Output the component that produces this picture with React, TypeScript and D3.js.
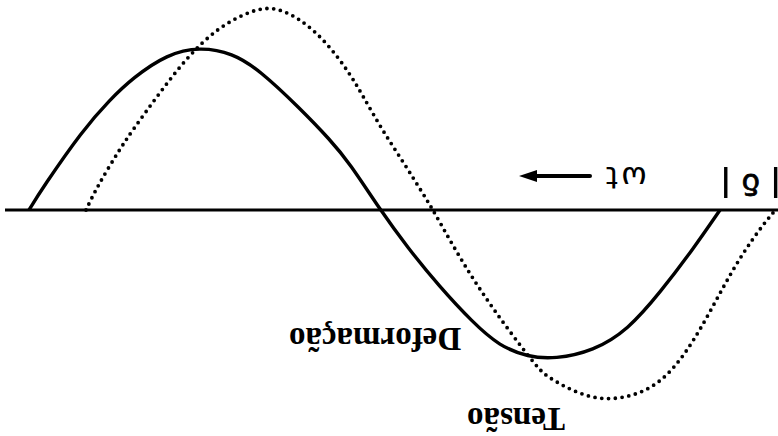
import React from "react";
import * as d3 from "d3";

// Phase angle ωt in degrees and the two response curves read as amplitude units
const strainDeg = [0, 7, 28, 42, 54, 72, 89, 106, 120, 141, 157, 167, 183, 197, 214, 231, 245, 260, 274, 294, 312, 329, 346, 360];
const strainVal = [0, 0.22, 0.8, 1.1, 1.32, 1.56, 1.63, 1.57, 1.4, 1.02, 0.7, 0.47, 0, -0.37, -0.77, -1.12, -1.36, -1.47, -1.49, -1.41, -1.2, -0.82, -0.39, 0];

const stressDeg = [29.7, 35.4, 47, 54, 68, 82, 98, 115, 127, 141, 155, 167, 174, 184, 195, 206, 210.5, 223, 235, 249, 265, 270, 287, 303, 322, 336, 350, 367, 381, 388];
const stressVal = [0, 0.23, 0.6, 0.8, 1.17, 1.52, 1.82, 1.99, 2.04, 1.92, 1.68, 1.37, 1.14, 0.8, 0.48, 0.14, 0, -0.43, -0.8, -1.18, -1.58, -1.67, -1.85, -1.91, -1.82, -1.6, -1.2, -0.57, -0.18, -0.02];

// Lag δ between the two zero crossings, marked by two bars
const lagMarks = [363, 389];

const seriesLabels = ["Deformação", "Tensão"];
const axisLabel = "ωt";
const lagLabel = "δ";

const W = 778;
const H = 436;

export default function App() {
  const x = d3.scaleLinear().domain([0, 360]).range([29, 720]);
  const y = d3.scaleLinear().domain([-2.26, 2.1]).range([H, 0]);

  const line = d3
    .line<[number, number]>()
    .x((d) => x(d[0]))
    .y((d) => y(d[1]))
    .curve(d3.curveBasis);

  const strain = strainDeg.map((d, i) => [d, strainVal[i]] as [number, number]);
  const stress = stressDeg.map((d, i) => [d, stressVal[i]] as [number, number]);

  const y0 = y(0);
  const serif = "'Liberation Serif', 'Times New Roman', serif";
  const sans = "'DejaVu Sans', sans-serif";

  const rot = (cx: number, cy: number) => `rotate(180 ${cx} ${cy})`;
  const lagX = (x(lagMarks[0]) + x(lagMarks[1])) / 2;

  return (
    <svg
      width={W}
      height={H}
      viewBox={`0 0 ${W} ${H}`}
      style={{ position: "absolute", left: 0, top: 0, background: "#fff" }}
    >
      <rect width={W} height={H} fill="#fff" />
      {/* horizontal ωt axis */}
      <line x1={5} x2={W} y1={y0} y2={y0} stroke="#000" strokeWidth={2.8} />

      {/* strain: solid */}
      <path d={line(strain) || ""} fill="none" stroke="#000" strokeWidth={3.4} strokeLinejoin="round" />

      {/* stress: dotted */}
      <path
        d={line(stress) || ""}
        fill="none"
        stroke="#000"
        strokeWidth={3.8}
        strokeDasharray="0 6.8"
        strokeLinecap="round"
      />

      {/* lag bars */}
      {lagMarks.map((m, i) => (
        <line key={i} x1={x(m)} x2={x(m)} y1={y0 - 43} y2={y0 - 12} stroke="#000" strokeWidth={3.4} />
      ))}
      <text
        x={lagX}
        y={y0 - 36}
        transform={rot(lagX, y0 - 36)}
        textAnchor="middle"
        fontFamily={sans}
        fontSize={30}
        fill="#000"
        stroke="#000"
        strokeWidth={0.8}
      >
        {lagLabel}
      </text>

      {/* ωt label with direction arrow */}
      <text
        x={625}
        y={167}
        transform={rot(625, 167)}
        textAnchor="middle"
        fontFamily={sans}
        fontSize={31}
        letterSpacing={3}
        fill="#000"
      >
        {axisLabel}
      </text>
      <line x1={533} x2={590} y1={176} y2={176} stroke="#000" strokeWidth={4} strokeLinecap="round" />
      <path d="M519,176 L537,170 L537,182 Z" fill="#000" />

      {/* series labels */}
      <text
        x={375}
        y={328}
        transform={rot(375, 328)}
        textAnchor="middle"
        fontFamily={serif}
        fontWeight="bold"
        fontSize={33}
        fill="#000"
      >
        {seriesLabels[0]}
      </text>
      <text
        x={516}
        y={408}
        transform={rot(516, 408)}
        textAnchor="middle"
        fontFamily={serif}
        fontWeight="bold"
        fontSize={33}
        fill="#000"
      >
        {seriesLabels[1]}
      </text>
    </svg>
  );
}
